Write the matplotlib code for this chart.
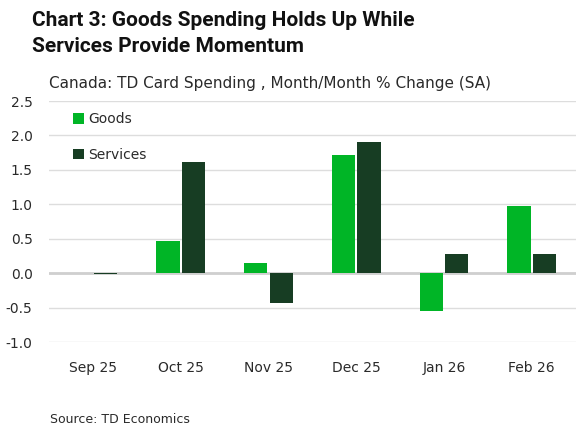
import matplotlib
matplotlib.use("Agg")
import matplotlib.pyplot as plt
import numpy as np

categories = ["Sep 25", "Oct 25", "Nov 25", "Dec 25", "Jan 26", "Feb 26"]
goods = [0.0, 0.47, 0.15, 1.72, -0.55, 0.97]
services = [-0.01, 1.62, -0.44, 1.91, 0.28, 0.28]
yticks = [-1.0, -0.5, 0.0, 0.5, 1.0, 1.5, 2.0, 2.5]

GOODS_C = "#00B526"
SERV_C = "#173D23"

plt.rcParams['font.family'] = ['DejaVu Sans']

fig = plt.figure(figsize=(5.79, 4.32), dpi=100)
ax = fig.add_axes([0.085, 0.2083, 0.909, 0.5579])

x = np.arange(len(categories))
w = 0.265
off = 0.145
ax.bar(x - off, goods, w, color=GOODS_C, label="Goods", zorder=3)
ax.bar(x + off, services, w, color=SERV_C, label="Services", zorder=3)

ax.set_xlim(-0.5, len(categories) - 0.5)
ax.set_ylim(-1.0, 2.5)
ax.set_yticks(yticks)
ax.set_yticklabels([f"{v:.1f}" for v in yticks])
ax.set_xticks(x)
ax.set_xticklabels(categories)
ax.grid(axis='y', color='#dddddd', linewidth=1, zorder=0)
ax.axhline(0, color='#cfcfcf', linewidth=2, zorder=2)
for s in ax.spines.values():
    s.set_visible(False)
ax.tick_params(axis='both', length=0, labelsize=10, colors='#2a2a2a')
ax.tick_params(axis='y', pad=12)
ax.tick_params(axis='x', pad=14)

ax.legend(loc='upper left', bbox_to_anchor=(0.022, 1.005), frameon=False,
          fontsize=10, handlelength=0.75, handleheight=0.75, labelspacing=1.55,
          handletextpad=0.3, labelcolor='#2a2a2a')

fig.text(0.055, 0.94, "Chart 3: Goods Spending Holds Up While", fontsize=15,
         fontweight=600, color='#111111', va='baseline', family='Roboto')
fig.text(0.055, 0.88, "Services Provide Momentum", fontsize=15,
         fontweight=600, color='#111111', va='baseline', family='Roboto')
fig.text(0.085, 0.796, "Canada: TD Card Spending , Month/Month % Change (SA)",
         fontsize=11, color='#2a2a2a', va='baseline')
fig.text(0.086, 0.021, "Source: TD Economics", fontsize=9, color='#2a2a2a',
         va='baseline')

fig.savefig("out.png", dpi=100, facecolor='white')
